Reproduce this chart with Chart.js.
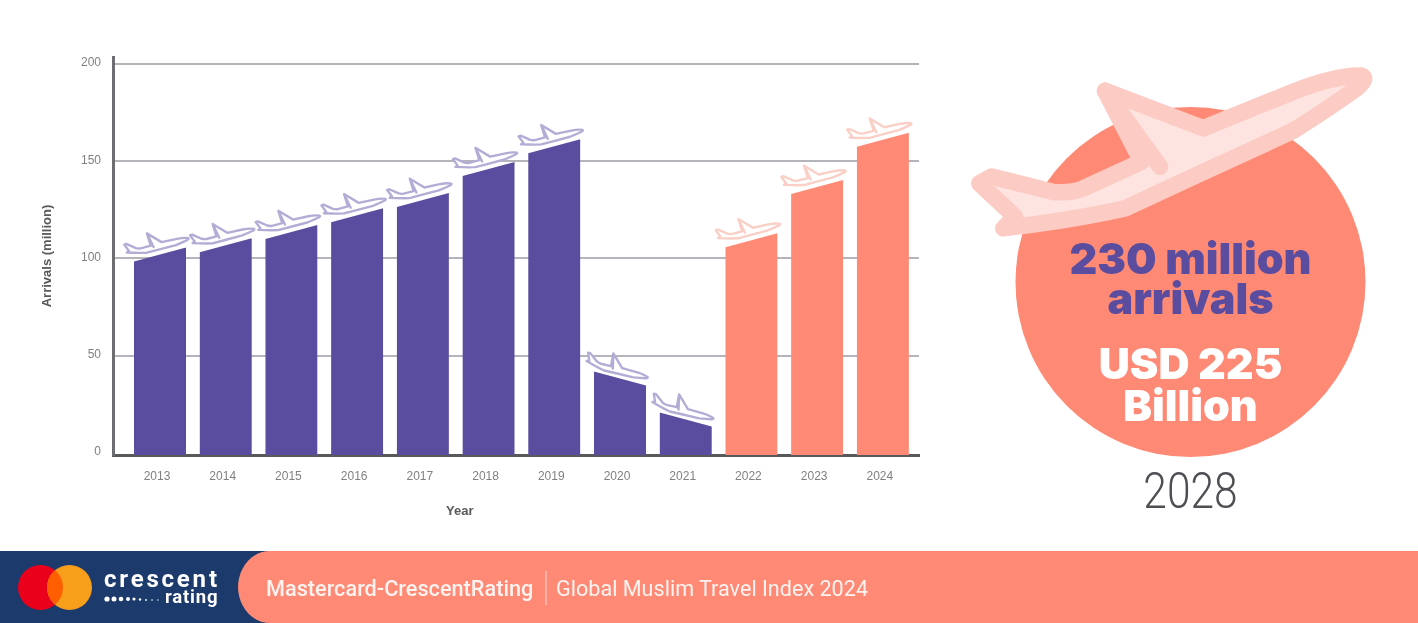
<!DOCTYPE html>
<html>
<head>
<meta charset="utf-8">
<title>Muslim travel arrivals</title>
<script src="https://cdn.jsdelivr.net/npm/chart.js@4/dist/chart.umd.min.js"></script>
<style>
  html, body { margin: 0; padding: 0; background: #fff; overflow: hidden; }
  #page { position: relative; width: 1418px; height: 623px; overflow: hidden; }
  #myChart { position: absolute; left: 0; top: 0; }
  #art { position: absolute; left: 0; top: 0; }
  .big { position: absolute; left: 1016px; width: 349px; text-align: center; font-family: Inter, sans-serif; font-weight: 900; font-size: 43px; line-height: 42px; white-space: nowrap; }
  .foot { position: absolute; white-space: nowrap; font-family: Roboto, sans-serif; color: #fff; }
</style>
</head>
<body>
<div id="page">
  <canvas id="myChart" width="960" height="545"></canvas>

  <svg id="art" width="1418" height="623">
    <circle cx="1190.5" cy="282" r="175" fill="#fe8a75"/>
    <path id="bigPlane" transform="translate(960 60) scale(0.3333)" fill="#fde4e0" stroke="#fccbc3" stroke-width="50" stroke-linejoin="round" stroke-linecap="round"/>
    <rect x="0" y="551" width="300" height="72" fill="#1d3a6d"/>
    <path d="M1418 551H270C250 551 238 570 238 587S250 623 270 623H1418Z" fill="#fe8a75"/>
    <circle cx="40.5" cy="587.5" r="22.5" fill="#eb001b"/>
    <circle cx="69.5" cy="587.5" r="22.5" fill="#f79e1b"/>
    <path d="M55 570.3A22.5 22.5 0 0 1 55 604.7A22.5 22.5 0 0 1 55 570.3Z" fill="#ff5f00"/>
    <g fill="#fff">
      <circle cx="107" cy="599" r="2.6"/><circle cx="114" cy="599" r="2.5"/><circle cx="121" cy="599" r="2.3"/>
      <circle cx="128" cy="599" r="2"/><circle cx="134" cy="599" r="1.6"/><circle cx="140" cy="599.5" r="1.2"/>
      <circle cx="146" cy="600" r="0.9"/><circle cx="152" cy="600" r="0.8"/><circle cx="158" cy="600" r="0.7"/>
    </g>
    <rect x="545.5" y="571" width="1" height="34" fill="#ffd9d1"/>
  </svg>

  <div class="big" style="top:237px;color:#5a4d9f">230 million</div>
  <div class="big" style="top:277px;color:#5a4d9f">arrivals</div>
  <div class="big" style="top:342px;color:#fff">USD 225</div>
  <div class="big" style="top:384px;color:#fff">Billion</div>
  <div style="position:absolute;left:1016px;width:349px;top:462px;text-align:center;font-family:Roboto,sans-serif;font-weight:300;font-size:50px;line-height:58px;color:#4d4f53;"><span style="display:inline-block;transform:scaleX(0.85)">2028</span></div>

  <div style="position:absolute;left:446px;top:503px;font-family:'Liberation Sans',sans-serif;font-weight:700;font-size:13px;line-height:16px;color:#58595b;">Year</div>

  <div class="foot" style="left:104px;top:565px;font-size:24px;font-weight:700;letter-spacing:2.8px;line-height:28px;">crescent</div>
  <div class="foot" style="left:165px;top:587px;font-size:18.5px;font-weight:700;letter-spacing:0.8px;line-height:20px;">rating</div>
  <div class="foot" style="left:266px;top:576px;font-size:21.7px;font-weight:500;line-height:26px;color:#fff3f0;">Mastercard-CrescentRating</div>
  <div class="foot" style="left:556px;top:576px;font-size:21.6px;font-weight:400;line-height:26px;color:#fff3f0;">Global Muslim Travel Index 2024</div>
</div>

<script>
'use strict';

const years = [2013, 2014, 2015, 2016, 2017, 2018, 2019, 2020, 2021, 2022, 2023, 2024];
const arrivals = [105.6, 110.4, 117.2, 125.8, 133.7, 149.6, 161.3, 41.8, 20.7, 113, 140.4, 164.7];
const forecastFrom = 2022;
const yTicks = [0, 50, 100, 150, 200];

const purple = '#5a4d9f';
const salmon = '#fe8a75';
const slant = 14;
// the axis line sits a little under the zero tick in the original, bars run down to it
const axisFloor = -1.1;

// plane outline, same drawing for the big one and the little ones
const planePath = 'M58 370L95 350L280 396Q335 400 370 385L545 305L435 92L730 205L1000 95Q1130 45 1205 47Q1225 55 1190 85Q1100 150 1000 212L700 350L495 445Q350 478 130 505L165 470Z M435 92L600 320';
document.getElementById('bigPlane').setAttribute('d', planePath);

function isFalling(i) {
  return i > 0 && arrivals[i] < arrivals[i - 1];
}

const slantedBars = {
  id: 'slantedBars',
  beforeDatasetDraw(chart) {
    const ctx = chart.ctx;
    ctx.save();
    ctx.beginPath();
    chart.getDatasetMeta(0).data.forEach((bar, i) => {
      const l = bar.x - bar.width / 2;
      const r = bar.x + bar.width / 2;
      ctx.moveTo(l, isFalling(i) ? bar.y : bar.y + slant);
      ctx.lineTo(r, isFalling(i) ? bar.y + slant : bar.y);
      ctx.lineTo(r, bar.base);
      ctx.lineTo(l, bar.base);
      ctx.closePath();
    });
    ctx.clip();
  },
  afterDatasetDraw(chart) {
    chart.ctx.restore();
  },
  afterDatasetsDraw(chart) {
    const ctx = chart.ctx;
    const shape = new Path2D(planePath);
    chart.getDatasetMeta(0).data.forEach((bar, i) => {
      ctx.save();
      ctx.translate(bar.x - 5, bar.y + (isFalling(i) ? -4 : -2.5));
      ctx.rotate((isFalling(i) ? 38 : 10) * Math.PI / 180);
      ctx.scale(0.054, 0.054);
      ctx.translate(-620, -280);
      ctx.lineWidth = 44;
      ctx.lineJoin = 'round';
      ctx.lineCap = 'round';
      ctx.fillStyle = '#fff';
      ctx.strokeStyle = years[i] >= forecastFrom ? '#f9cfc6' : '#b3add6';
      ctx.fill(shape);
      ctx.stroke(shape);
      ctx.restore();
    });
  }
};

const axisFont = { family: '"Liberation Sans", sans-serif', size: 12 };

new Chart(document.getElementById('myChart'), {
  type: 'bar',
  data: {
    datasets: [{
      data: years.map((year, i) => ({ x: year, y: arrivals[i] })),
      backgroundColor: years.map(year => year >= forecastFrom ? salmon : purple),
      barThickness: 52,
      base: axisFloor
    }]
  },
  options: {
    responsive: false,
    animation: false,
    layout: { padding: { left: 40, right: 41, top: 57, bottom: 0 } },
    plugins: { legend: { display: false }, tooltip: { enabled: false } },
    scales: {
      x: {
        type: 'linear',
        offset: false,
        z: 1,
        min: 2012.285,
        max: 2024.55,
        afterBuildTicks: axis => { axis.ticks = years.map(value => ({ value })); },
        afterFit: axis => { axis.height = 90; },
        grid: { display: false, drawTicks: false },
        border: { color: '#58595b', width: 3 },
        ticks: { callback: value => String(value), color: '#808080', font: axisFont, padding: 14, labelOffset: -3, maxRotation: 0, autoSkip: false }
      },
      y: {
        min: axisFloor,
        max: 203.65,
        afterBuildTicks: axis => { axis.ticks = yTicks.map(value => ({ value })); },
        afterFit: axis => { axis.width = 73; },
        grid: { color: ctx => ctx.tick && ctx.tick.value === 0 ? 'transparent' : '#b4b4ba', lineWidth: 2, drawTicks: false },
        border: { color: '#6d6e71', width: 3 },
        ticks: { color: '#808080', font: axisFont, padding: 12, labelOffset: -1 },
        title: { display: true, text: 'Arrivals (million)', color: '#58595b', font: { ...axisFont, size: 13, weight: 'bold' }, padding: 0 }
      }
    }
  },
  plugins: [slantedBars]
});
</script>
</body>
</html>
